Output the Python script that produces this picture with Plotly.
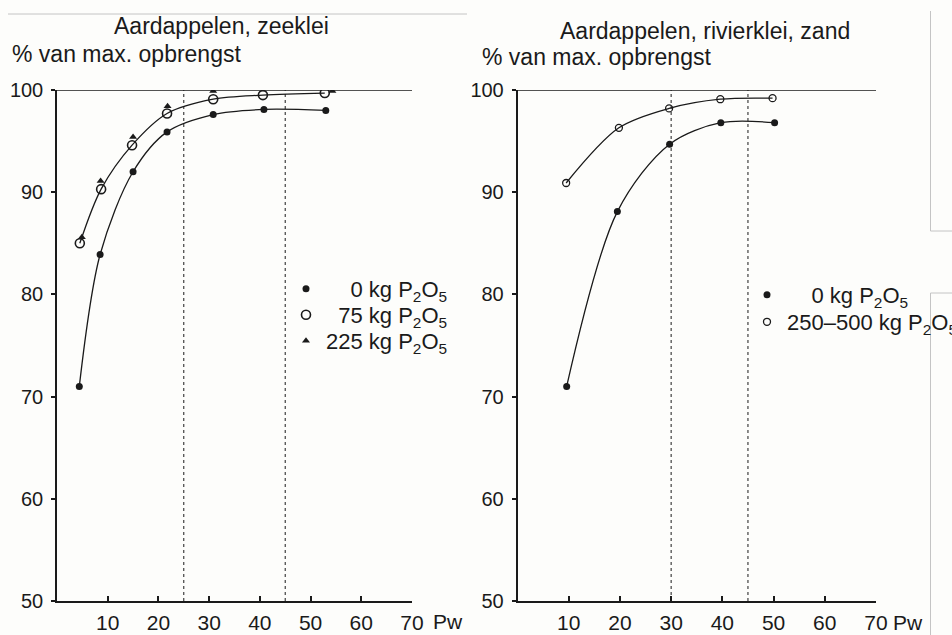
import plotly.graph_objects as go

# ---- data ----
left_x_0 = [4.4, 8.5, 15.0, 21.7, 30.8, 40.8, 53.0]
left_y_0 = [71.0, 83.9, 92.0, 95.9, 97.6, 98.1, 98.0]
left_x_75 = [4.5, 8.7, 14.8, 21.7, 30.8, 40.6, 52.8]
left_y_75 = [85.0, 90.3, 94.6, 97.7, 99.1, 99.5, 99.7]
left_x_225 = [4.9, 8.6, 15.0, 21.8, 30.8, 40.9, 54.3]
left_y_225 = [85.6, 91.1, 95.4, 98.4, 99.9, 100.2, 99.9]

right_x_0 = [9.6, 19.5, 29.7, 39.7, 50.2]
right_y_0 = [71.0, 88.1, 94.7, 96.8, 96.8]
right_x_250 = [9.5, 19.8, 29.6, 39.6, 49.8]
right_y_250 = [90.9, 96.3, 98.2, 99.1, 99.2]

x_ticks = [10, 20, 30, 40, 50, 60, 70]
y_ticks = [50, 60, 70, 80, 90, 100]
left_reflines = [25, 45]
right_reflines = [30, 45]

title_left = "Aardappelen, zeeklei"
title_right = "Aardappelen, rivierklei, zand"
ylabel = "% van max. opbrengst"
xunit = "Pw"
leg_left = ["\u2007\u20070 kg P<sub>2</sub>O<sub>5</sub>",
            "\u200775 kg P<sub>2</sub>O<sub>5</sub>",
            "225 kg P<sub>2</sub>O<sub>5</sub>"]
leg_right = ["\u2007\u20070 kg P<sub>2</sub>O<sub>5</sub>",
             "250\u2013500 kg P<sub>2</sub>O<sub>5</sub>"]

# ---- figure ----
W, H = 952, 635
FONT = "Liberation Sans, Arial, Helvetica, sans-serif"
INK = "#1a1a1a"

def px(xp):
    return xp / W

def py(yp):
    return (H - yp) / H

fig = go.Figure()

line_style = dict(color=INK, width=1.3, shape="spline", smoothing=0.9)

# left panel curves
fig.add_trace(go.Scatter(x=left_x_0, y=left_y_0, mode="lines", line=line_style,
                         showlegend=False, xaxis="x", yaxis="y", hoverinfo="skip"))
fig.add_trace(go.Scatter(x=left_x_75, y=left_y_75, mode="lines", line=line_style,
                         showlegend=False, xaxis="x", yaxis="y", hoverinfo="skip"))
# left panel markers
fig.add_trace(go.Scatter(x=left_x_0, y=left_y_0, mode="markers", name=leg_left[0],
                         marker=dict(symbol="circle", size=7, color=INK),
                         xaxis="x", yaxis="y", legend="legend"))
fig.add_trace(go.Scatter(x=left_x_75, y=left_y_75, mode="markers", name=leg_left[1],
                         marker=dict(symbol="circle-open", size=9, color=INK, line=dict(width=1.6)),
                         xaxis="x", yaxis="y", legend="legend2"))
fig.add_trace(go.Scatter(x=left_x_225, y=left_y_225, mode="markers", name=leg_left[2],
                         marker=dict(symbol="triangle-up", size=7, color=INK),
                         xaxis="x", yaxis="y", legend="legend3"))

# right panel curves
fig.add_trace(go.Scatter(x=right_x_0, y=right_y_0, mode="lines", line=line_style,
                         showlegend=False, xaxis="x2", yaxis="y2", hoverinfo="skip"))
fig.add_trace(go.Scatter(x=right_x_250, y=right_y_250, mode="lines", line=line_style,
                         showlegend=False, xaxis="x2", yaxis="y2", hoverinfo="skip"))
# right panel markers
fig.add_trace(go.Scatter(x=right_x_0, y=right_y_0, mode="markers", name=leg_right[0],
                         marker=dict(symbol="circle", size=7, color=INK),
                         xaxis="x2", yaxis="y2", legend="legend4"))
fig.add_trace(go.Scatter(x=right_x_250, y=right_y_250, mode="markers", name=leg_right[1],
                         marker=dict(symbol="circle-open", size=7, color=INK, line=dict(width=1.3)),
                         xaxis="x2", yaxis="y2", legend="legend5"))

ytick_font = dict(family=FONT, size=20, color=INK)
xtick_font = dict(family=FONT, size=21, color=INK)

def xaxis_cfg(dom, anchor):
    return dict(domain=dom, anchor=anchor, range=[0, 70], tickmode="array",
                tickvals=x_ticks, ticktext=[str(v) for v in x_ticks],
                showline=True, linecolor=INK, linewidth=1.5, ticks="inside",
                ticklen=5, tickwidth=1.5, tickcolor=INK, showgrid=False,
                zeroline=False, tickfont=xtick_font, ticklabelstandoff=2)

def yaxis_cfg(anchor):
    return dict(domain=[py(601), py(90)], anchor=anchor, range=[50, 100],
                tickmode="array", tickvals=y_ticks, ticktext=[str(v) for v in y_ticks],
                showline=True, linecolor=INK, linewidth=1.5, ticks="outside",
                ticklen=4, tickwidth=1.5, tickcolor=INK, showgrid=False,
                zeroline=False, tickfont=ytick_font, ticklabelstandoff=4)

shapes = []
for xr, yr, refs in (("x", "y", left_reflines), ("x2", "y2", right_reflines)):
    # top line at 100
    shapes.append(dict(type="line", xref=xr, yref=yr, x0=0, x1=70, y0=100, y1=100,
                       line=dict(color=INK, width=1.3)))
    for v in refs:
        shapes.append(dict(type="line", xref=xr, yref=yr, x0=v, x1=v, y0=50, y1=100,
                           line=dict(color=INK, width=1, dash="dot")))

# faint scan edges of the source page
edge = dict(color="#c4c4c4", width=1)
shapes += [
    dict(type="line", xref="paper", yref="paper", x0=px(8), x1=px(467), y0=py(14), y1=py(14), line=edge),
    dict(type="line", xref="paper", yref="paper", x0=px(930.5), x1=px(930.5), y0=py(11), y1=py(231), line=edge),
    dict(type="line", xref="paper", yref="paper", x0=px(930.5), x1=px(952), y0=py(231), y1=py(231), line=edge),
    dict(type="line", xref="paper", yref="paper", x0=px(930.5), x1=px(952), y0=py(293), y1=py(293), line=edge),
    dict(type="line", xref="paper", yref="paper", x0=px(930.5), x1=px(930.5), y0=py(293), y1=py(635), line=edge),
]

title_font = dict(family=FONT, size=23, color=INK)
annotations = [
    dict(text=title_left, x=px(221), y=py(26), xref="paper", yref="paper",
         xanchor="center", yanchor="middle", showarrow=False, font=title_font),
    dict(text=ylabel, x=px(10), y=py(54), xref="paper", yref="paper",
         xanchor="left", yanchor="middle", showarrow=False, font=title_font),
    dict(text=title_right, x=px(705), y=py(31), xref="paper", yref="paper",
         xanchor="center", yanchor="middle", showarrow=False, font=title_font),
    dict(text=ylabel, x=px(480), y=py(57), xref="paper", yref="paper",
         xanchor="left", yanchor="middle", showarrow=False, font=title_font),
    dict(text=xunit, x=px(431), y=py(621), xref="paper", yref="paper",
         xanchor="left", yanchor="middle", showarrow=False,
         font=dict(family=FONT, size=21, color=INK)),
    dict(text=xunit, x=px(891), y=py(622), xref="paper", yref="paper",
         xanchor="left", yanchor="middle", showarrow=False,
         font=dict(family=FONT, size=21, color=INK)),
]

leg_font = dict(family=FONT, size=22, color=INK)

def leg(mx, my):
    return dict(x=px(mx - 20), y=py(my), xanchor="left", yanchor="middle",
                bgcolor="rgba(0,0,0,0)", borderwidth=0, font=leg_font,
                itemclick=False, itemdoubleclick=False)

fig.update_layout(
    width=W, height=H,
    margin=dict(l=0, r=0, t=0, b=0, autoexpand=False),
    paper_bgcolor="#fdfdfb", plot_bgcolor="rgba(0,0,0,0)",
    font=dict(family=FONT, color=INK),
    xaxis=xaxis_cfg([px(57), px(412)], "y"),
    yaxis=yaxis_cfg("x"),
    xaxis2=xaxis_cfg([px(517.5), px(876)], "y2"),
    yaxis2=yaxis_cfg("x2"),
    shapes=shapes,
    annotations=annotations,
    legend=leg(306, 289),
    legend2=leg(306, 315),
    legend3=leg(306, 341),
    legend4=leg(767, 295),
    legend5=leg(767, 322),
    showlegend=True,
)

fig.write_html("out.html", config={"displayModeBar": False},
               post_script="document.body.style.margin='0';")
